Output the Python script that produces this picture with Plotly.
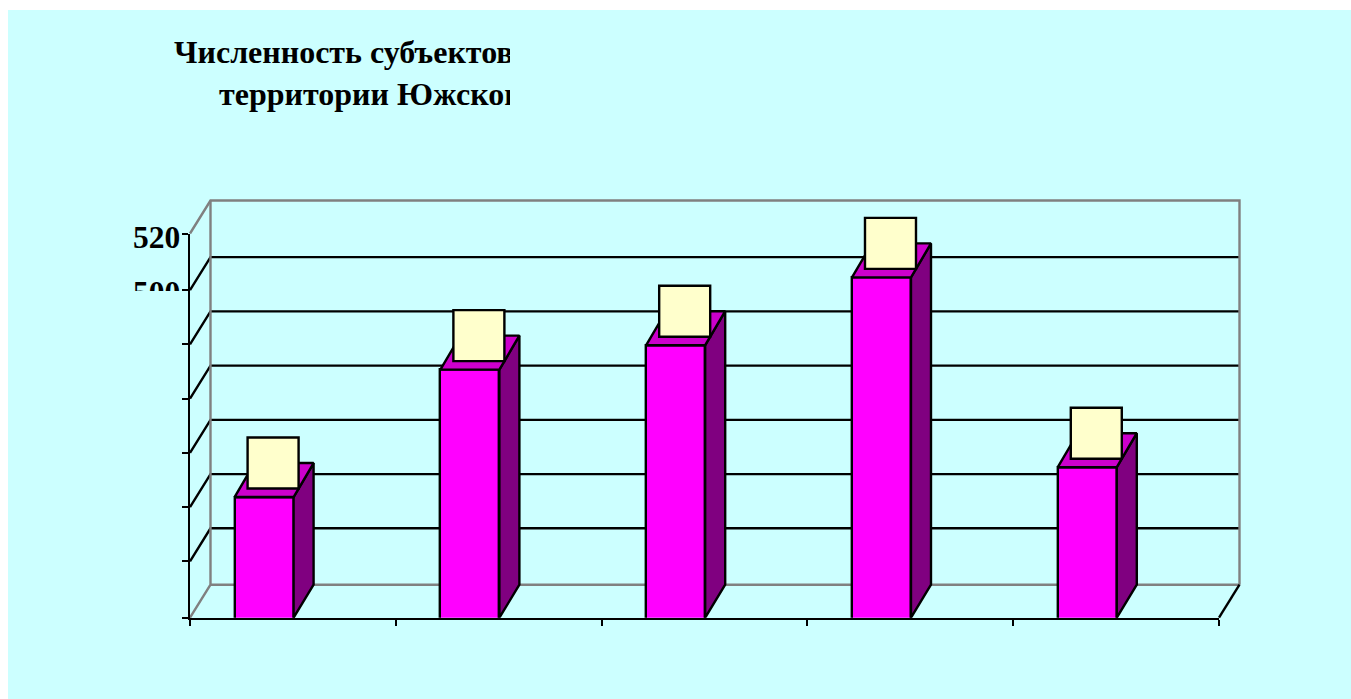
import plotly.graph_objects as go

# ---- data ----
categories = [0.36, 1.36, 2.36, 3.36, 4.36]
values = [423.7, 470.7, 479.7, 504.7, 434.7]
grid_values = [400, 420, 440, 460, 480, 500]
axis_bottom = 379.2
axis_top = 520.9
x_tick_values = [0, 1, 2, 3, 4, 5]
y_labels = ["520", "500"]
y_label_values = [520, 500]
title_lines = ["Численность субъектов", "территории Южского"]

# ---- colours ----
BG = "#CCFFFF"
FRONT = "#FF00FF"
SIDE = "#800080"
TOP = "#CC00CC"
BOX = "#FFFFCC"
WALL = "#808080"

# ---- layout calibration ----
W, H = 1351, 699
FX0, FX1 = 190, 1219        # front plane, pixels
FY0, FY1 = 617.7, 233.5
PXU = (FX1 - FX0) / 5
PYU = (FY0 - FY1) / (axis_top - axis_bottom)
DX = 20.5 / PXU             # wall depth offset in data units
DY = 33 / PYU
BAR_DX = 20 / PXU           # column depth offset
BAR_DY = 34 / PYU
BAR_W = 59 / PXU
SX0, SX1, SY0, SY1 = 180, 1250, 630, 190   # wall scene, pixels


def to_x(px):
    return (px - FX0) / PXU


def to_y(py):
    return axis_bottom + (FY0 - py) / PYU


fig = go.Figure()


def wall_line(xs, ys, color):
    fig.add_trace(go.Scatter(x=xs, y=ys, mode="lines", xaxis="x", yaxis="y",
                             line=dict(color=color, width=2.4), hoverinfo="skip", showlegend=False))


# back wall, floor and gridlines (lower subplot)
for v in grid_values:
    wall_line([0, DX, 5 + DX], [v, v + DY, v + DY], "black")
wall_line([0, DX, DX], [axis_bottom, axis_bottom + DY, axis_top + DY], WALL)
wall_line([0, DX, 5 + DX, 5 + DX], [axis_top, axis_top + DY, axis_top + DY, axis_bottom + DY], WALL)
wall_line([DX, 5 + DX], [axis_bottom + DY, axis_bottom + DY], WALL)
wall_line([5, 5 + DX], [axis_bottom, axis_bottom + DY], "black")

# side and top faces of the columns
for c, v in zip(categories, values):
    r = c + BAR_W / 2
    l = c - BAR_W / 2
    fig.add_trace(go.Scatter(
        x=[r, r + BAR_DX, r + BAR_DX, r, r], y=[axis_bottom, axis_bottom + DY, v + BAR_DY, v, axis_bottom],
        fill="toself", fillcolor=SIDE, mode="lines", line=dict(color="black", width=2.4),
        xaxis="x2", yaxis="y2", hoverinfo="skip", showlegend=False))
    fig.add_trace(go.Scatter(
        x=[l, l + BAR_DX, r + BAR_DX, r, l], y=[v, v + BAR_DY, v + BAR_DY, v, v],
        fill="toself", fillcolor=TOP, mode="lines", line=dict(color="black", width=2.4),
        xaxis="x2", yaxis="y2", hoverinfo="skip", showlegend=False))

# front faces
fig.add_trace(go.Bar(x=categories, y=values, width=BAR_W, xaxis="x2", yaxis="y2",
                     marker=dict(color=FRONT, line=dict(color="black", width=2.4)),
                     hoverinfo="x+y", showlegend=False))

# empty data-label boxes
fig.add_trace(go.Scatter(
    x=[c + BAR_DX * 0.45 for c in categories], y=[v + BAR_DY for v in values],
    mode="markers", xaxis="x2", yaxis="y2", cliponaxis=False,
    marker=dict(symbol="square", size=51, color=BOX, line=dict(color="black", width=2.4)),
    hoverinfo="skip", showlegend=False))

SERIF = "Liberation Serif"
annotations = []
for text, py, px in zip(title_lines, [52, 94], [172, 217]):
    annotations.append(dict(text=f"<b>{text}</b>", xref="paper", yref="paper", x=px / W, y=1 - py / H,
                            xanchor="left", yanchor="middle", showarrow=False,
                            font=dict(family=SERIF, size=32, color="black")))
for text, v in zip(y_labels, y_label_values):
    annotations.append(dict(text=f"<b>{text}</b>", xref="paper", yref="y2", x=181.5 / W, y=v,
                            xanchor="right", yanchor="middle", yshift=-2, showarrow=False,
                            font=dict(family=SERIF, size=31.5, color="black")))
# the reference clips these texts: masks in the background colour
for x0, x1, y0, y1 in [(510, 640, 30, 120), (120, 183, 291, 330)]:
    annotations.append(dict(text="&nbsp;", xref="paper", yref="paper", x=x0 / W, y=1 - y0 / H,
                            xanchor="left", yanchor="top", showarrow=False, bgcolor=BG,
                            width=x1 - x0, height=y1 - y0, borderpad=0, borderwidth=0))

fig.update_layout(
    width=W, height=H, margin=dict(l=0, r=0, t=0, b=0), autosize=False,
    paper_bgcolor="white", plot_bgcolor="rgba(0,0,0,0)", showlegend=False, bargap=0,
    xaxis=dict(domain=[SX0 / W, SX1 / W], range=[to_x(SX0), to_x(SX1)], visible=False, anchor="y"),
    yaxis=dict(domain=[1 - SY0 / H, 1 - SY1 / H], range=[to_y(SY0), to_y(SY1)], visible=False, anchor="x"),
    xaxis2=dict(domain=[FX0 / W, FX1 / W], range=[0, 5], anchor="y2", tickmode="array",
                tickvals=x_tick_values, ticktext=[""] * len(x_tick_values), ticks="outside", ticklen=6,
                tickwidth=2, tickcolor="black", showline=True, linecolor="black", linewidth=2,
                showgrid=False, zeroline=False),
    yaxis2=dict(domain=[1 - FY0 / H, 1 - FY1 / H], range=[axis_bottom, axis_top], anchor="x2",
                tickmode="array", tickvals=[axis_bottom] + grid_values + [axis_top],
                ticktext=[""] * (len(grid_values) + 2), ticks="outside", ticklen=6, tickwidth=2,
                tickcolor="black", showline=True, linecolor="black", linewidth=2,
                showgrid=False, zeroline=False),
    shapes=[dict(type="rect", layer="below", xref="paper", yref="paper", x0=8 / W, x1=1, y0=0, y1=1 - 10 / H,
                 fillcolor=BG, line=dict(width=0))],
    annotations=annotations,
)

fig.write_html("out.html", config={"displayModeBar": False},
               post_script="document.body.style.margin='0';document.body.style.overflow='hidden';")
